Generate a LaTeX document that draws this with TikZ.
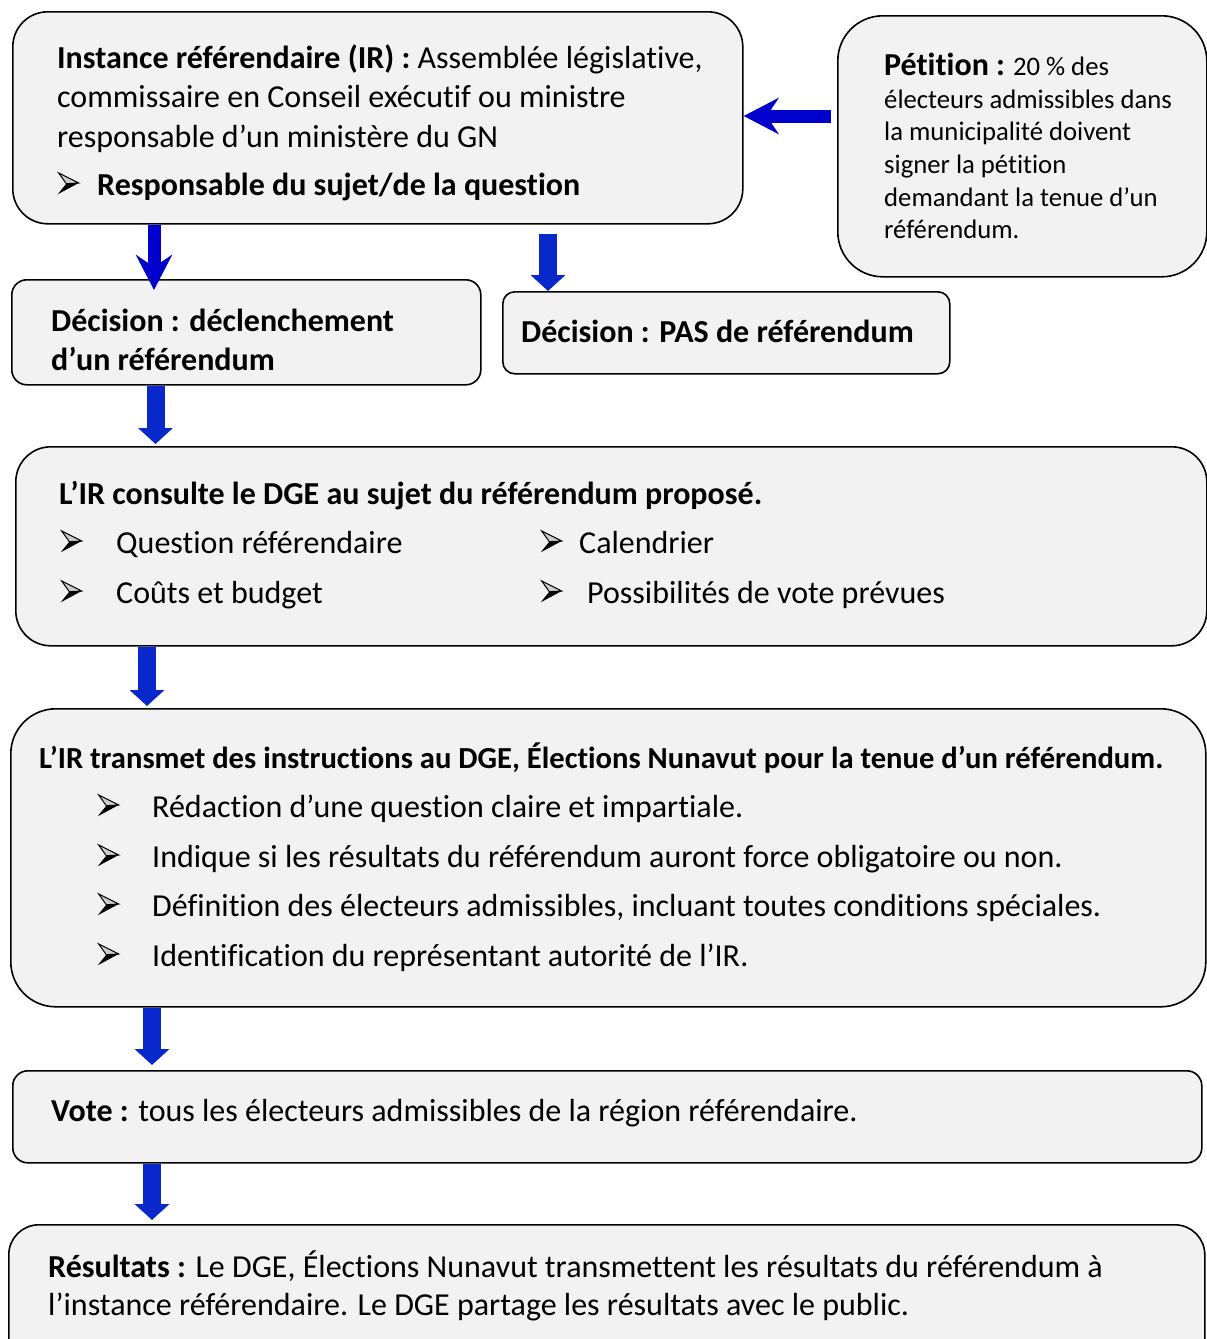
\documentclass[tikz,border=0pt]{standalone}
\usepackage{fontspec}
\setmainfont{Carlito}[RawFeature={-liga;-clig;-dlig;-calt}]
\usetikzlibrary{arrows.meta}
\definecolor{boxgray}{RGB}{242,242,242}
\definecolor{blueA}{RGB}{0,0,204}
\definecolor{blueB}{RGB}{8,40,204}
\tikzset{
  box/.style={draw=black, line width=1.6pt, fill=boxgray, anchor=north west, inner sep=0pt},
  txt/.style={anchor=base west, inner sep=0pt, font=\fontsize{32}{39}\selectfont},
  smalltxt/.style={anchor=base west, inner sep=0pt, font=\fontsize{26.7}{32}\selectfont},
  headtxt/.style={anchor=base west, inner sep=0pt, font=\fontsize{30.6}{37}\selectfont\bfseries},
  stealtharrow/.style={draw=blueA, line width=13pt, -{Stealth[width=36pt,length=35pt,inset=12pt]}},
  blockarrow/.style={draw=blueB, line width=18pt, -{Triangle[width=34pt,length=16pt]}},
  pics/arrowbullet/.style={code={
    \fill[black] (9.3,-11.3) -- (21.7,-12) -- (0.7,-0.7) -- cycle;
    \draw[black, fill=black!20, line width=1pt, line join=miter] (1.7,-22) -- (21.7,-12) -- (9.3,-11.3) -- cycle;
  }}
}
\begin{document}
\begin{tikzpicture}[x=1pt,y=-1pt]
\useasboundingbox (0,0) rectangle (1207,1339);
% boxes
\node[box, rounded corners=35pt, minimum width=730pt, minimum height=212pt] (ir) at (12,11) {};
\node[box, rounded corners=45pt, minimum width=369pt, minimum height=261pt] (pet) at (837,15) {};
\node[box, rounded corners=15pt, minimum width=469pt, minimum height=105pt] (dec) at (11,279) {};
\node[box, rounded corners=12pt, minimum width=447pt, minimum height=82pt] (pas) at (502,291) {};
\node[box, rounded corners=35pt, minimum width=1191pt, minimum height=199pt] (cons) at (15,446) {};
\node[box, rounded corners=45pt, minimum width=1195pt, minimum height=298pt] (trans) at (10,708) {};
\node[box, rounded corners=15pt, minimum width=1189pt, minimum height=92pt] (vote) at (12,1070) {};
\node[box, rounded corners=30pt, minimum width=1196pt, minimum height=150pt] (res) at (8,1224) {};
% arrow columns
\coordinate (c1) at (154,0);
\coordinate (c2) at (548,0);
\coordinate (c3) at (155.5,0);
\coordinate (c4) at (147,0);
\coordinate (c5) at (152,0);
\coordinate (r1) at (0,116);
% arrows
\draw[stealtharrow] (ir.south -| c1) -- ([yshift=-11pt]dec.north -| c1);
\draw[blockarrow] ([yshift=-9pt]ir.south -| c2) -- (pas.north -| c2);
\draw[stealtharrow] ([xshift=-6pt]pet.west |- r1) -- (ir.east |- r1);
\draw[blockarrow] (dec.south -| c3) -- ([yshift=2pt]cons.north -| c3);
\draw[blockarrow] (cons.south -| c4) -- ([yshift=2pt]trans.north -| c4);
\draw[blockarrow] (trans.south -| c5) -- ([yshift=5pt]vote.north -| c5);
\draw[blockarrow] (vote.south -| c5) -- ([yshift=4pt]res.north -| c5);
% IR box text
\node[txt] (t1) at (57,68) {\textbf{Instance référendaire (IR) :} Assemblée législative,};
\node[txt] (t2) at (57,107) {commissaire en Conseil exécutif ou ministre};
\node[txt] (t3) at (57,147) {responsable d’un ministère du GN};
\pic (b1) at (57,195) {arrowbullet};
\node[txt] (t4) at (97,195) {\textbf{Responsable du sujet/de la question}};
% Petition text
\node[smalltxt] (p1) at (884,75) {{\fontsize{32}{39}\selectfont\bfseries Pétition :} 20~\% des};
\node[smalltxt] (p2) at (884,108) {électeurs admissibles dans};
\node[smalltxt] (p3) at (884,140.5) {la municipalité doivent};
\node[smalltxt] (p4) at (884,173) {signer la pétition};
\node[smalltxt] (p5) at (884,206) {demandant la tenue d’un};
\node[smalltxt] (p6) at (884,238) {référendum.};
% decision texts
\node[txt] (d1) at (51,331) {\textbf{Décision : déclenchement}};
\node[txt] (d2) at (51,370) {\textbf{d’un référendum}};
\node[txt] (d3) at (521,342) {\textbf{Décision : PAS de référendum}};
% consultation
\node[txt] (k0) at (59,504) {\textbf{L’IR consulte le DGE au sujet du référendum proposé.}};
\pic (kb1) at (60,553) {arrowbullet};
\node[txt] (k1) at (116,553) {Question référendaire};
\pic (kb2) at (540,553) {arrowbullet};
\node[txt] (k2) at (579,553) {Calendrier};
\pic (kb3) at (60,603) {arrowbullet};
\node[txt] (k3) at (116,603) {Coûts et budget};
\pic (kb4) at (540,603) {arrowbullet};
\node[txt] (k4) at (587,603) {Possibilités de vote prévues};
% transmission
\node[headtxt] (m0) at (39,768) {L’IR transmet des instructions au DGE, Élections Nunavut pour la tenue d’un référendum.};
\pic (mb1) at (97,817) {arrowbullet};
\node[txt] (m1) at (152,817) {Rédaction d’une question claire et impartiale.};
\pic (mb2) at (97,867) {arrowbullet};
\node[txt] (m2) at (152,867) {Indique si les résultats du référendum auront force obligatoire ou non.};
\pic (mb3) at (97,916) {arrowbullet};
\node[txt] (m3) at (152,916) {Définition des électeurs admissibles, incluant toutes conditions spéciales.};
\pic (mb4) at (97,966) {arrowbullet};
\node[txt] (m4) at (152,966) {Identification du représentant autorité de l’IR.};
% vote
\node[txt] (v1) at (51,1121) {\textbf{Vote :} tous les électeurs admissibles de la région référendaire.};
% results
\node[txt] (r1t) at (48,1277) {\textbf{Résultats :} Le DGE, Élections Nunavut transmettent les résultats du référendum à};
\node[txt] (r2t) at (48,1315) {l’instance référendaire. Le DGE partage les résultats avec le public.};
\end{tikzpicture}
\end{document}
